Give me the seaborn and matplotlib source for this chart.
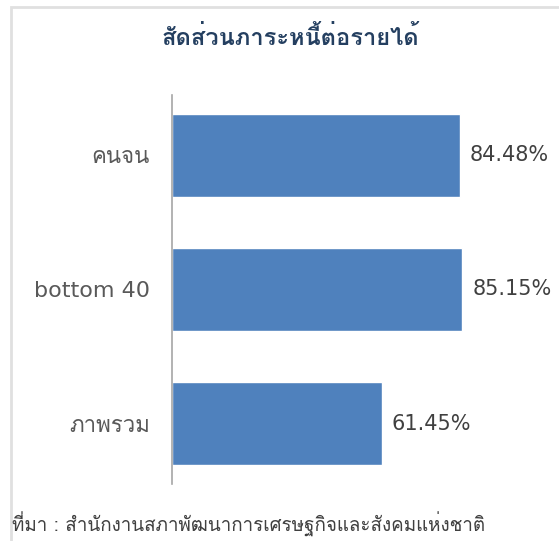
import matplotlib
matplotlib.use('Agg')
import matplotlib.pyplot as plt
from matplotlib import font_manager
from matplotlib.patches import Rectangle
from fontTools.ttLib import TTFont
import seaborn as sns
import pandas as pd

# datos
categorias = ['คนจน', 'bottom 40', 'ภาพรวม']
valores = [84.48, 85.15, 61.45]
etiquetas = ['84.48%', '85.15%', '61.45%']
titulo = 'สัดส่วนภาระหนี้ต่อรายได้'
fuente = 'ที่มา : สำนักงานสภาพัฒนาการเศรษฐกิจและสังคมแห่งชาติ'

df = pd.DataFrame({'grupo': categorias, 'valor': valores})

sns.set_style('white')

# buscar una fuente instalada con glifos tailandeses
thai_fams = []
for f in font_manager.fontManager.ttflist:
    try:
        cmap = TTFont(f.fname, fontNumber=0, lazy=True).getBestCmap()
        if cmap and 0x0E2A in cmap and f.name not in thai_fams:
            thai_fams.append(f.name)
    except Exception:
        pass
plt.rcParams['font.family'] = thai_fams + ['DejaVu Sans']
fam_lat = ['DejaVu Sans'] + thai_fams

fig = plt.figure(figsize=(5.59, 5.41), dpi=100)
ax = fig.add_axes([0.3077, 0.1054, 0.61, 0.719])

sns.barplot(x='valor', y='grupo', data=df, color='#4F81BD', saturation=1,
            width=0.62, orient='h', ax=ax)

ax.set_xlim(0, 100)
ax.set_ylim(2.45, -0.45)
ax.set_xlabel('')
ax.set_ylabel('')
ax.set_xticks([])
ax.tick_params(axis='y', length=0, pad=16)
for lbl in ax.get_yticklabels():
    lbl.set_family(fam_lat)
    lbl.set_fontsize(16)
    lbl.set_color('#595959')
for s in ['top', 'right', 'bottom']:
    ax.spines[s].set_visible(False)
ax.spines['left'].set_color('#A6A6A6')
ax.spines['left'].set_linewidth(1.2)

for i, (v, t) in enumerate(zip(valores, etiquetas)):
    ax.text(v + 2.9, i, t, va='center', ha='left', fontsize=15,
            color='#404040', family=fam_lat)

fig.text(0.52, 0.93, titulo, ha='center', va='center', fontsize=17,
         fontweight='bold', color='#243F60')
fig.text(0.022, 0.03, fuente, ha='left', va='center', fontsize=13.5,
         color='#404040')

# marco gris claro
fig.patches.append(Rectangle((0.02, -0.1), 1.1, 1.087, transform=fig.transFigure,
                             fill=False, edgecolor='#E0E0E0', linewidth=2))

fig.savefig('out.png', dpi=100)
